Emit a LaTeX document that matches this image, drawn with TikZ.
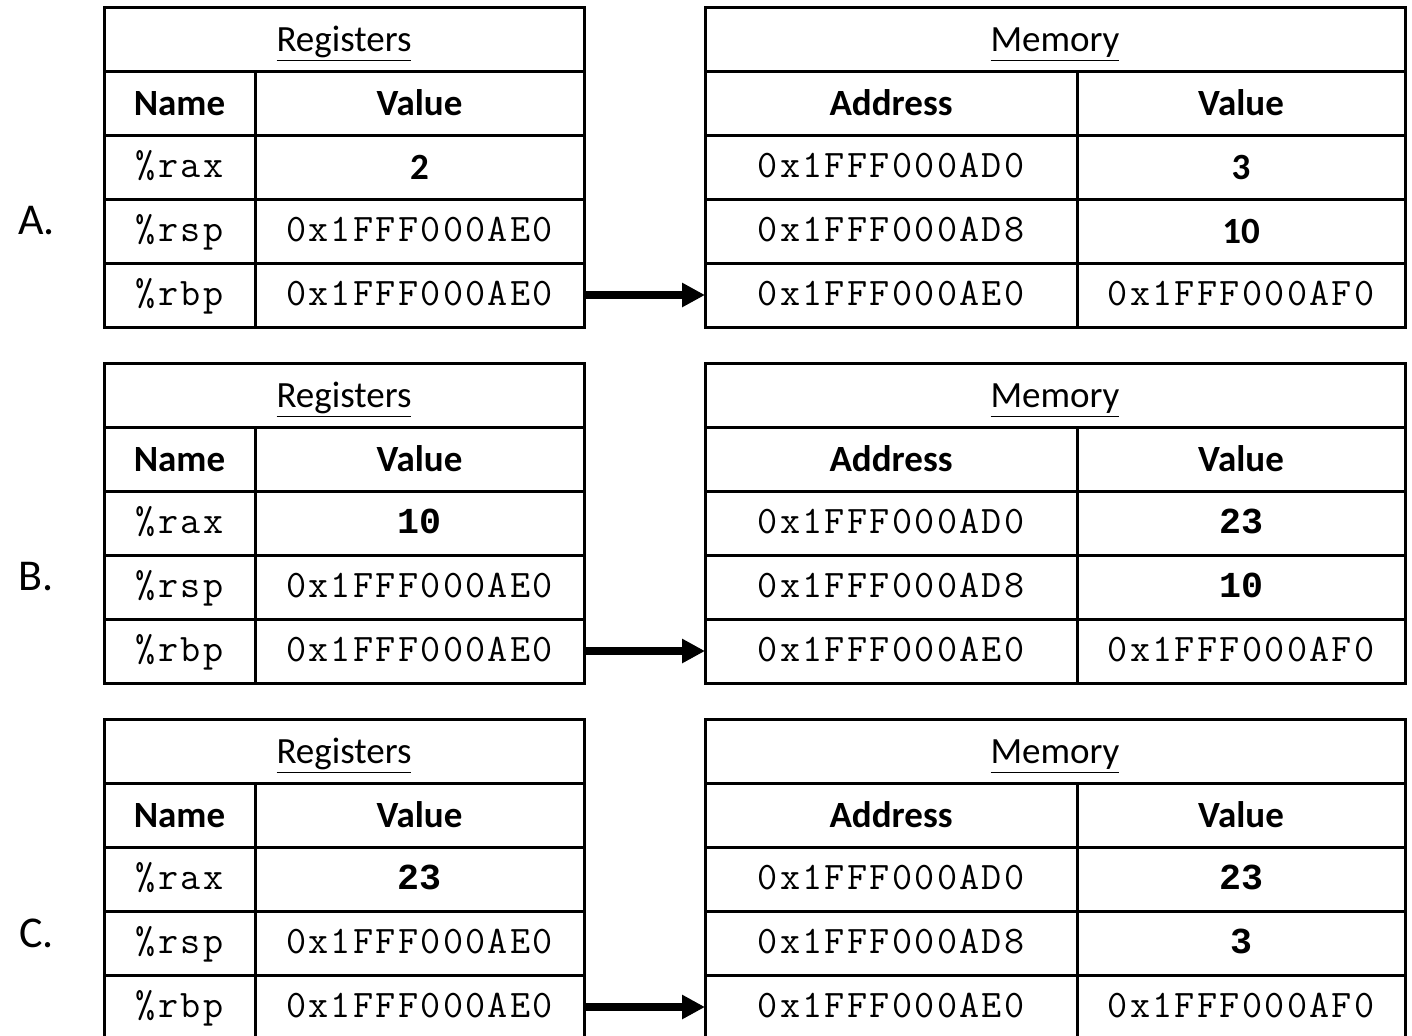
\documentclass[tikz,border=0pt]{standalone}
\usepackage{fontspec}
\setmainfont{Carlito}
\newfontfamily\codefont{Latin Modern Mono}[LetterSpace=6]
\newfontfamily\boldcodefont{Liberation Mono}
\usepackage{tikz}
\usetikzlibrary{arrows.meta,positioning}
\tikzstyle{cell} = [rectangle, draw=black, line width=1.5pt, minimum height=32pt, inner sep=0pt, outer sep=0pt, text centered, text height=16.5pt, text depth=4pt, font=\fontsize{18.5}{22}\selectfont]
\tikzstyle{head} = [cell, font=\fontsize{18.5}{22}\selectfont\bfseries]
\tikzstyle{code} = [cell, text height=14pt, font=\fontsize{19.5}{22}\codefont]
\tikzstyle{boldcode} = [code, font=\fontsize{18.3}{22}\boldcodefont\bfseries]
\tikzstyle{panellabel} = [font=\fontsize{22}{26}\selectfont]
\tikzstyle{arrow} = [line width=4pt, -{Triangle[length=11.5pt,width=11.5pt]}]

\begin{document}
\begin{tikzpicture}
\clip (0,0) rectangle (706pt,-517.5pt);

% panel A
\node[panellabel] (labA) at (18.25pt,-110.5pt) {A.};
\node[cell, minimum width=240pt, anchor=north west] (regA) at (52pt,-3.5pt) {\underline{Registers}};
\node[head, minimum width=75.5pt, below right=0pt and 0pt of regA.south west] (nameA) {Name};
\node[head, minimum width=164.5pt, right=0pt of nameA] (valA) {Value};
\node[code, minimum width=75.5pt, below=0pt of nameA] (raxA) {\%rax};
\node[head, minimum width=164.5pt, right=0pt of raxA] (raxvA) {2};
\node[code, minimum width=75.5pt, below=0pt of raxA] (rspA) {\%rsp};
\node[code, minimum width=164.5pt, right=0pt of rspA] (rspvA) {0x1FFF000AE0};
\node[code, minimum width=75.5pt, below=0pt of rspA] (rbpA) {\%rbp};
\node[code, minimum width=164.5pt, right=0pt of rbpA] (rbpvA) {0x1FFF000AE0};

\node[cell, minimum width=350pt, right=60.5pt of regA] (memA) {\underline{Memory}};
\node[head, minimum width=186pt, below right=0pt and 0pt of memA.south west] (addrA) {Address};
\node[head, minimum width=164pt, right=0pt of addrA] (mvalA) {Value};
\node[code, minimum width=186pt, below=0pt of addrA] (ad0A) {0x1FFF000AD0};
\node[head, minimum width=164pt, right=0pt of ad0A] (ad0vA) {3};
\node[code, minimum width=186pt, below=0pt of ad0A] (ad8A) {0x1FFF000AD8};
\node[head, minimum width=164pt, right=0pt of ad8A] (ad8vA) {10};
\node[code, minimum width=186pt, below=0pt of ad8A] (ae0A) {0x1FFF000AE0};
\node[code, minimum width=164pt, right=0pt of ae0A] (ae0vA) {0x1FFF000AF0};

\draw[arrow] (rbpvA) -- (ae0A);

% panel B
\node[panellabel] (labB) at (18.25pt,-288.5pt) {B.};
\node[cell, minimum width=240pt, below right=18pt and 0pt of rbpA.south west] (regB) {\underline{Registers}};
\node[head, minimum width=75.5pt, below right=0pt and 0pt of regB.south west] (nameB) {Name};
\node[head, minimum width=164.5pt, right=0pt of nameB] (valB) {Value};
\node[code, minimum width=75.5pt, below=0pt of nameB] (raxB) {\%rax};
\node[boldcode, minimum width=164.5pt, right=0pt of raxB] (raxvB) {10};
\node[code, minimum width=75.5pt, below=0pt of raxB] (rspB) {\%rsp};
\node[code, minimum width=164.5pt, right=0pt of rspB] (rspvB) {0x1FFF000AE0};
\node[code, minimum width=75.5pt, below=0pt of rspB] (rbpB) {\%rbp};
\node[code, minimum width=164.5pt, right=0pt of rbpB] (rbpvB) {0x1FFF000AE0};

\node[cell, minimum width=350pt, right=60.5pt of regB] (memB) {\underline{Memory}};
\node[head, minimum width=186pt, below right=0pt and 0pt of memB.south west] (addrB) {Address};
\node[head, minimum width=164pt, right=0pt of addrB] (mvalB) {Value};
\node[code, minimum width=186pt, below=0pt of addrB] (ad0B) {0x1FFF000AD0};
\node[boldcode, minimum width=164pt, right=0pt of ad0B] (ad0vB) {23};
\node[code, minimum width=186pt, below=0pt of ad0B] (ad8B) {0x1FFF000AD8};
\node[boldcode, minimum width=164pt, right=0pt of ad8B] (ad8vB) {10};
\node[code, minimum width=186pt, below=0pt of ad8B] (ae0B) {0x1FFF000AE0};
\node[code, minimum width=164pt, right=0pt of ae0B] (ae0vB) {0x1FFF000AF0};

\draw[arrow] (rbpvB) -- (ae0B);

% panel C
\node[panellabel] (labC) at (18.25pt,-466.5pt) {C.};
\node[cell, minimum width=240pt, below right=18pt and 0pt of rbpB.south west] (regC) {\underline{Registers}};
\node[head, minimum width=75.5pt, below right=0pt and 0pt of regC.south west] (nameC) {Name};
\node[head, minimum width=164.5pt, right=0pt of nameC] (valC) {Value};
\node[code, minimum width=75.5pt, below=0pt of nameC] (raxC) {\%rax};
\node[boldcode, minimum width=164.5pt, right=0pt of raxC] (raxvC) {23};
\node[code, minimum width=75.5pt, below=0pt of raxC] (rspC) {\%rsp};
\node[code, minimum width=164.5pt, right=0pt of rspC] (rspvC) {0x1FFF000AE0};
\node[code, minimum width=75.5pt, below=0pt of rspC] (rbpC) {\%rbp};
\node[code, minimum width=164.5pt, right=0pt of rbpC] (rbpvC) {0x1FFF000AE0};

\node[cell, minimum width=350pt, right=60.5pt of regC] (memC) {\underline{Memory}};
\node[head, minimum width=186pt, below right=0pt and 0pt of memC.south west] (addrC) {Address};
\node[head, minimum width=164pt, right=0pt of addrC] (mvalC) {Value};
\node[code, minimum width=186pt, below=0pt of addrC] (ad0C) {0x1FFF000AD0};
\node[boldcode, minimum width=164pt, right=0pt of ad0C] (ad0vC) {23};
\node[code, minimum width=186pt, below=0pt of ad0C] (ad8C) {0x1FFF000AD8};
\node[boldcode, minimum width=164pt, right=0pt of ad8C] (ad8vC) {3};
\node[code, minimum width=186pt, below=0pt of ad8C] (ae0C) {0x1FFF000AE0};
\node[code, minimum width=164pt, right=0pt of ae0C] (ae0vC) {0x1FFF000AF0};

\draw[arrow] (rbpvC) -- (ae0C);
\end{tikzpicture}
\end{document}
